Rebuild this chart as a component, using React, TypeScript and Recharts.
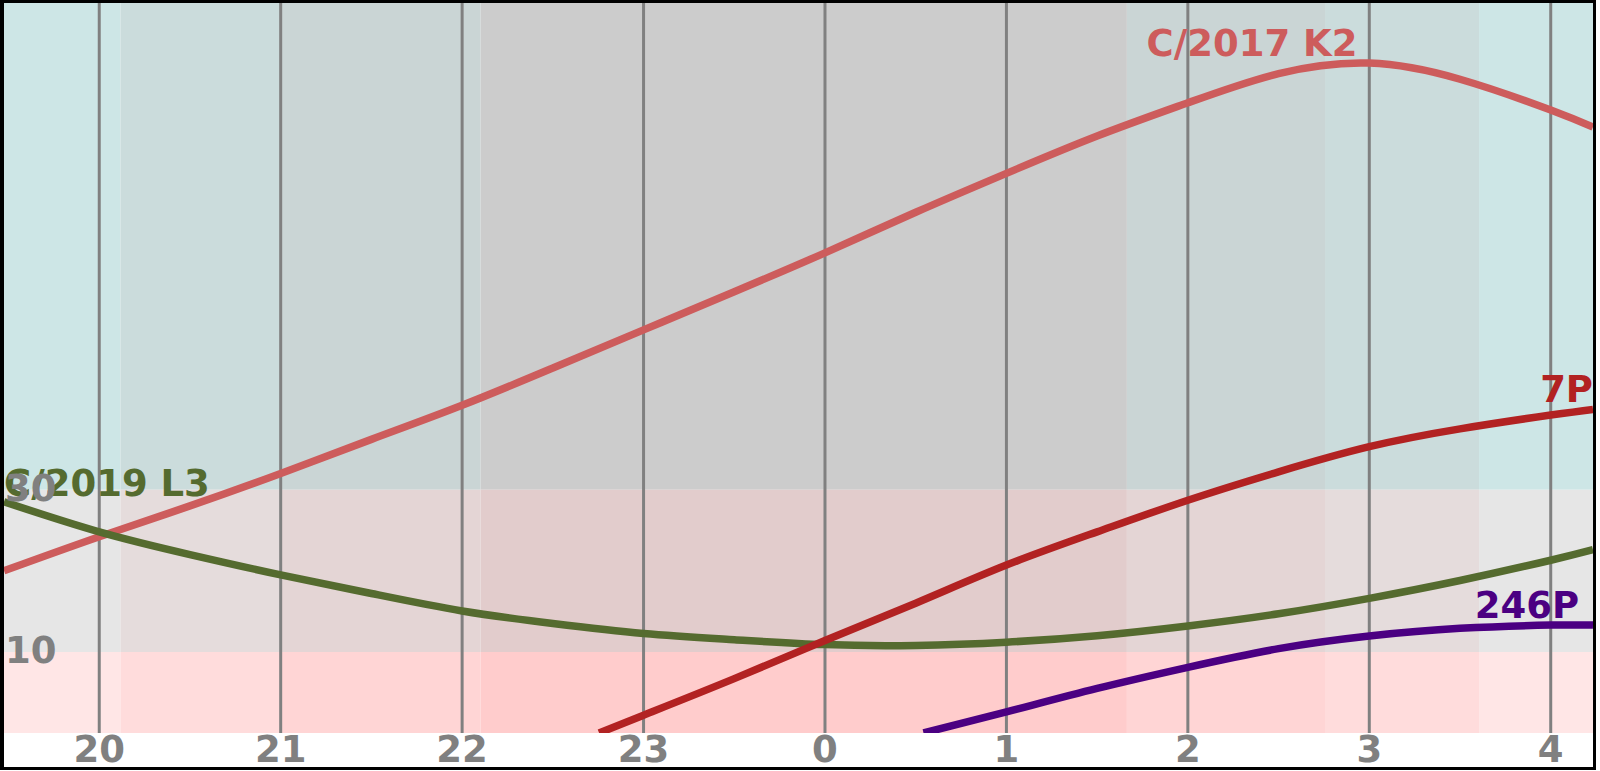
import React from "react";
import { ComposedChart, Line, XAxis, YAxis, ReferenceArea, ReferenceLine, Scatter } from "recharts";

// hours run on past midnight (24 = 0h, 28 = 4h)
const hourTicks = [20, 21, 22, 23, 24, 25, 26, 27, 28];
const altTicks = [10, 30];
const timeSpan: [number, number] = [19.475, 28.233];
const altSpan: [number, number] = [0, 90];

// sky bands: edges in hours, darkness step per band (0 = twilight edge, 3 = night)
const skyEdges = [19.475, 20.117, 21.0, 22.102, 25.664, 26.756, 27.605, 28.233];
const skyDepth = [0, 1, 2, 3, 2, 1, 0];
const altZones = [
  { lo: 30, hi: 90 },
  { lo: 10, hi: 30 },
  { lo: 0, hi: 10 },
];

const k2 = [
  { h: 19.475, alt: 20.0 },
  { h: 20, alt: 24.2 },
  { h: 20.5, alt: 28.0 },
  { h: 21, alt: 32.0 },
  { h: 21.5, alt: 36.2 },
  { h: 22, alt: 40.4 },
  { h: 22.5, alt: 45.0 },
  { h: 23, alt: 49.7 },
  { h: 23.5, alt: 54.4 },
  { h: 24, alt: 59.2 },
  { h: 24.5, alt: 64.2 },
  { h: 25, alt: 69.0 },
  { h: 25.5, alt: 73.6 },
  { h: 26, alt: 77.7 },
  { h: 26.5, alt: 81.3 },
  { h: 27, alt: 82.6 },
  { h: 27.5, alt: 80.6 },
  { h: 28, alt: 76.8 },
  { h: 28.233, alt: 74.7 },
];

const l3 = [
  { h: 19.475, alt: 28.5 },
  { h: 20, alt: 24.8 },
  { h: 20.5, alt: 22.0 },
  { h: 21, alt: 19.5 },
  { h: 21.5, alt: 17.2 },
  { h: 22, alt: 15.05 },
  { h: 22.5, alt: 13.5 },
  { h: 23, alt: 12.26 },
  { h: 23.5, alt: 11.5 },
  { h: 24, alt: 10.9 },
  { h: 24.5, alt: 10.8 },
  { h: 25, alt: 11.2 },
  { h: 25.5, alt: 12.0 },
  { h: 26, alt: 13.2 },
  { h: 26.5, alt: 14.7 },
  { h: 27, alt: 16.6 },
  { h: 27.5, alt: 18.8 },
  { h: 28, alt: 21.3 },
  { h: 28.233, alt: 22.6 },
];

const p7 = [
  { h: 22.755, alt: 0 },
  { h: 23, alt: 2.2 },
  { h: 23.5, alt: 6.7 },
  { h: 24, alt: 11.4 },
  { h: 24.5, alt: 16.0 },
  { h: 25, alt: 20.7 },
  { h: 25.5, alt: 24.8 },
  { h: 26, alt: 28.7 },
  { h: 26.5, alt: 32.2 },
  { h: 27, alt: 35.3 },
  { h: 27.5, alt: 37.5 },
  { h: 28, alt: 39.2 },
  { h: 28.233, alt: 39.9 },
];

const p246 = [
  { h: 24.543, alt: 0 },
  { h: 25, alt: 2.6 },
  { h: 25.5, alt: 5.5 },
  { h: 26, alt: 8.1 },
  { h: 26.5, alt: 10.4 },
  { h: 27, alt: 11.95 },
  { h: 27.5, alt: 12.9 },
  { h: 28, alt: 13.3 },
  { h: 28.233, alt: 13.3 },
];

const cometLabels = [
  { h: 26.935, alt: 83.47, text: "C/2017 K2", anchor: "end", color: "#cd5c5c" },
  { h: 19.475, alt: 29.22, text: "C/2019 L3", anchor: "start", color: "#556b2f" },
  { h: 28.233, alt: 40.85, text: "7P", anchor: "end", color: "#b22222" },
  { h: 28.156, alt: 14.14, text: "246P", anchor: "end", color: "#4b0082" },
];

// altitude tick labels sit inside the plot, at its left edge
const altLabels = altTicks.map((v) => ({ h: timeSpan[0], alt: v, text: String(v) }));

const zoneColors = [
  ["#cde6e6", "#cbdcdc", "#cad5d5", "#cccccc"],
  ["#e6e6e6", "#e5dcdc", "#e4d5d5", "#e2cccc"],
  ["#ffe6e6", "#ffdcdc", "#ffd5d5", "#ffcccc"],
];

const font = { fontFamily: "DejaVu Sans", fontWeight: 700, fontSize: 37 };

function HourTick(props: any) {
  const { x, y, payload } = props;
  return (
    <text x={x} y={y + 29} textAnchor="middle" fill="#808080" style={font}>
      {payload.value % 24}
    </text>
  );
}

function LabelText(props: any) {
  const { cx, cy, payload } = props;
  return (
    <text x={cx} y={cy} textAnchor={payload.anchor} fill={payload.color} style={font}>
      {payload.text}
    </text>
  );
}

function AltText(props: any) {
  const { cx, cy, payload } = props;
  return (
    <text x={cx + 1} y={cy + 11} textAnchor="start" fill="#808080" style={font}>
      {payload.text}
    </text>
  );
}

export default function App() {
  const bands = [];
  for (let z = 0; z < altZones.length; z++) {
    for (let b = 0; b < skyDepth.length; b++) {
      bands.push(
        <ReferenceArea
          key={`sky-${z}-${b}`}
          x1={skyEdges[b]}
          x2={skyEdges[b + 1]}
          y1={altZones[z].lo}
          y2={altZones[z].hi}
          fill={zoneColors[z][skyDepth[b]]}
          fillOpacity={1}
          strokeWidth={0}
          ifOverflow="visible"
        />
      );
    }
  }

  const lineProps = { dataKey: "alt", type: "natural" as const, strokeWidth: 7.5, dot: false, isAnimationActive: false };

  return (
    <div style={{ position: "absolute", left: 0, top: 0, width: 1600, height: 771, background: "#fff" }}>
      <div style={{ position: "absolute", left: 4, top: 3 }}>
        <ComposedChart width={1589} height={768} margin={{ top: 0, right: 0, bottom: 4, left: 0 }}>
          <XAxis
            type="number"
            dataKey="h"
            domain={timeSpan}
            allowDataOverflow
            ticks={hourTicks}
            interval={0}
            height={34}
            axisLine={false}
            tickLine={false}
            tickSize={0}
            tickMargin={0}
            tick={<HourTick />}
          />
          <YAxis type="number" domain={altSpan} allowDataOverflow ticks={altTicks} width={0} hide />
          {bands}
          {hourTicks.map((h) => (
            <ReferenceLine key={`grid-${h}`} x={h} stroke="#808080" strokeWidth={3} />
          ))}
          <Line data={k2} stroke="#cd5c5c" {...lineProps} />
          <Line data={l3} stroke="#556b2f" {...lineProps} />
          <Line data={p7} stroke="#b22222" {...lineProps} />
          <Line data={p246} stroke="#4b0082" {...lineProps} />
          <Scatter data={cometLabels} dataKey="alt" shape={<LabelText />} isAnimationActive={false} />
          <Scatter data={altLabels} dataKey="alt" shape={<AltText />} isAnimationActive={false} />
        </ComposedChart>
      </div>
      <div
        style={{
          position: "absolute",
          left: 0,
          top: 0,
          width: 1596,
          height: 770,
          boxSizing: "border-box",
          borderStyle: "solid",
          borderColor: "#000",
          borderWidth: "3px 3px 3px 4px",
          pointerEvents: "none",
        }}
      />
    </div>
  );
}
